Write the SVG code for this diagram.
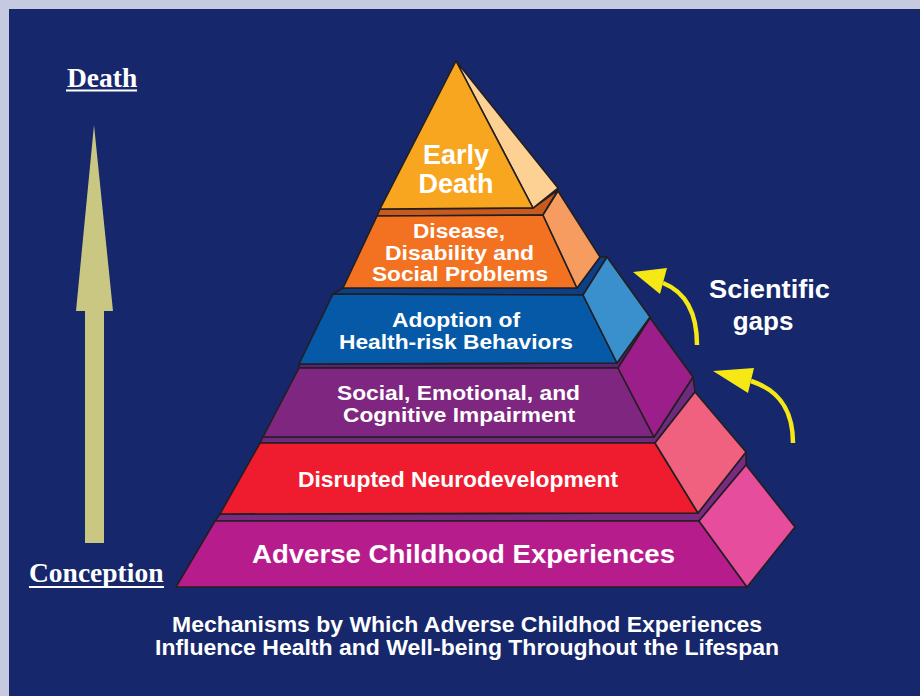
<svg xmlns="http://www.w3.org/2000/svg" width="920" height="696" viewBox="0 0 920 696">
<defs>
<style>
.edge{stroke:#231f20;stroke-width:1.6;stroke-linejoin:round}
.lbl{font-family:"Liberation Sans",Arial,Helvetica,sans-serif;font-weight:bold;fill:#ffffff;text-anchor:middle}
.ser{font-family:"Liberation Serif","Times New Roman",serif;font-weight:bold;fill:#ffffff;font-size:27.5px}
.ya{fill:none;stroke:#f6e815;stroke-width:4.5;stroke-linecap:butt}
.yh{fill:#f6e815}
</style>
</defs>
<rect x="0" y="0" width="920" height="696" fill="#c5cae1"/>
<rect x="9" y="9" width="911" height="687" fill="#16276b"/>

<g id="timeline-arrow">
<polygon points="94,125 113,311 104,311 104,543 85,543 85,311 76,311" fill="#c9c782"/>
<text class="ser" x="67" y="87">Death</text>
<rect x="66" y="89.5" width="71" height="2" fill="#ffffff"/>
<text class="ser" x="29" y="582">Conception</text>
<rect x="29" y="586" width="135" height="2" fill="#ffffff"/>
</g>

<g id="tier1-adverse-childhood-experiences">
<polygon class="edge" points="215,521 699,521 746,465 746,452 698,513 220,514" fill="#7a2a80"/>
<polygon class="edge" points="176,587 747,587 699,521 215,521" fill="#b71c8c"/>
<polygon class="edge" points="699,521 746,465 795,527 747,587" fill="#e64d9c"/>
<text class="lbl" x="463.5" y="563" font-size="26" textLength="423" lengthAdjust="spacingAndGlyphs">Adverse Childhood Experiences</text>
</g>

<g id="tier2-disrupted-neurodevelopment">
<polygon class="edge" points="260,443 655,443 695,392 693,377 654,437 263,437" fill="#6e2a7e"/>
<polygon class="edge" points="220,514 698,513 655,443 260,443" fill="#ee1c2e"/>
<polygon class="edge" points="655,443 695,392 746,452 698,513" fill="#f0607f"/>
<text class="lbl" x="458" y="487" font-size="22" textLength="320" lengthAdjust="spacingAndGlyphs">Disrupted Neurodevelopment</text>
</g>

<g id="tier3-social-emotional-cognitive">
<polygon class="edge" points="299,368 618,368 650,318 650,317 617,363 299,364" fill="#5c2275"/>
<polygon class="edge" points="263,437 654,437 618,368 299,368" fill="#7f2680"/>
<polygon class="edge" points="618,368 650,318 693,377 654,437" fill="#9b1e8b"/>
<text class="lbl" x="458.5" y="400" font-size="21" textLength="243" lengthAdjust="spacingAndGlyphs">Social, Emotional, and</text>
<text class="lbl" x="459" y="422" font-size="21" textLength="232" lengthAdjust="spacingAndGlyphs">Cognitive Impairment</text>
</g>

<g id="tier4-health-risk-behaviors">
<polygon class="edge" points="333,294 583,295 607,257 600,257 577,288 343,288" fill="#0b3f87"/>
<polygon class="edge" points="299,364 617,363 583,295 333,294" fill="#0559a7"/>
<polygon class="edge" points="583,295 607,257 650,317 617,363" fill="#3a8fcd"/>
<text class="lbl" x="456" y="327" font-size="21" textLength="128" lengthAdjust="spacingAndGlyphs">Adoption of</text>
<text class="lbl" x="456" y="349" font-size="21" textLength="234" lengthAdjust="spacingAndGlyphs">Health-risk Behaviors</text>
</g>

<g id="tier5-disease-disability">
<polygon class="edge" points="377,216 543,215 558,190 533,208 380,209" fill="#c95a1d"/>
<polygon class="edge" points="343,288 577,288 543,215 377,216" fill="#f37221"/>
<polygon class="edge" points="543,215 558,191 600,257 577,288" fill="#f69c61"/>
<text class="lbl" x="459" y="238" font-size="21" textLength="92" lengthAdjust="spacingAndGlyphs">Disease,</text>
<text class="lbl" x="459.5" y="260" font-size="21" textLength="149" lengthAdjust="spacingAndGlyphs">Disability and</text>
<text class="lbl" x="460" y="281" font-size="21" textLength="176" lengthAdjust="spacingAndGlyphs">Social Problems</text>
</g>

<g id="tier6-early-death">
<polygon class="edge" points="456,61 558,188 533,208" fill="#fdd094"/>
<polygon class="edge" points="456,61 533,208 380,209" fill="#f8a61f"/>
<text class="lbl" x="456" y="164" font-size="27">Early</text>
<text class="lbl" x="456" y="193" font-size="27">Death</text>
</g>

<g id="connectors">
<path class="ya" d="M697,345 C697,315 688,293 663,283"/>
<polygon class="yh" points="633,272 667,268 660,294"/>
<path class="ya" d="M793,443 C793,412 781,391 751,381"/>
<polygon class="yh" points="713,371 754,368 748,393"/>
</g>

<g id="scientific-gaps-label">
<text class="lbl" x="769.5" y="298" font-size="26" textLength="121" lengthAdjust="spacingAndGlyphs">Scientific</text>
<text class="lbl" x="763" y="330" font-size="26">gaps</text>
</g>

<g id="caption">
<text class="lbl" x="467" y="632" font-size="22" textLength="590" lengthAdjust="spacingAndGlyphs">Mechanisms by Which Adverse Childhod Experiences</text>
<text class="lbl" x="467" y="655" font-size="22" textLength="624" lengthAdjust="spacingAndGlyphs">Influence Health and Well-being Throughout the Lifespan</text>
</g>
</svg>
